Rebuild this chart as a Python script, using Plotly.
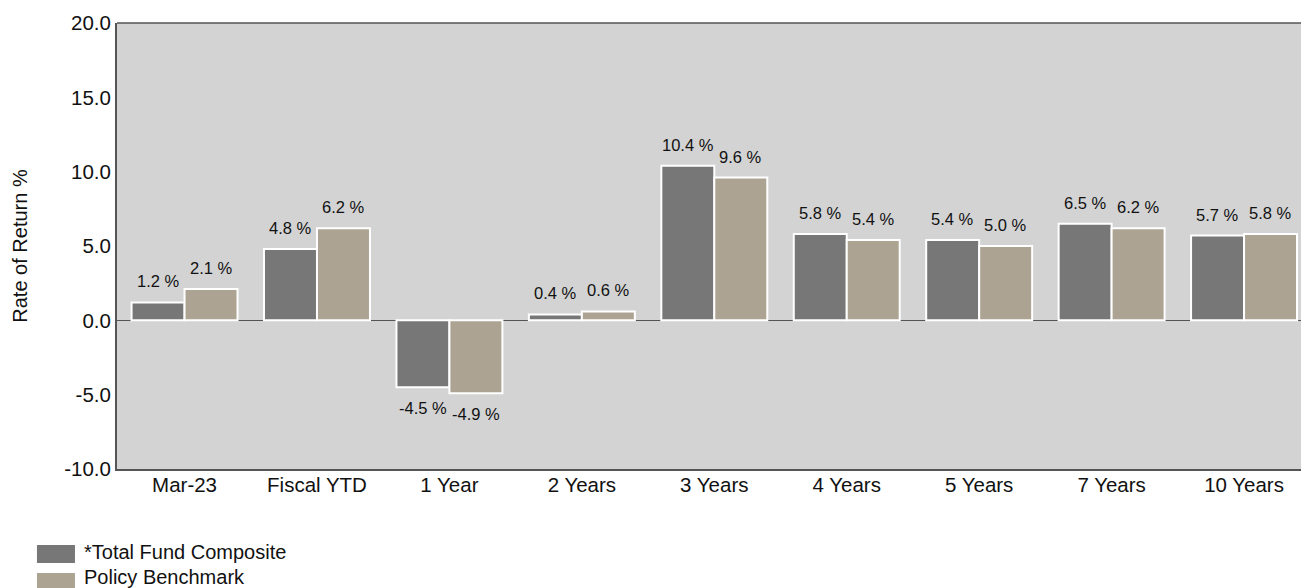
import plotly.graph_objects as go

categories = ["Mar-23", "Fiscal YTD", "1 Year", "2 Years", "3 Years", "4 Years", "5 Years", "7 Years", "10 Years"]
total_fund = [1.2, 4.8, -4.5, 0.4, 10.4, 5.8, 5.4, 6.5, 5.7]
benchmark = [2.1, 6.2, -4.9, 0.6, 9.6, 5.4, 5.0, 6.2, 5.8]
series_names = ["*Total Fund Composite", "Policy Benchmark"]
series_colors = ["#777777", "#ada393"]
y_ticks = [-10, -5, 0, 5, 10, 15, 20]

FONT = "Liberation Sans, Arial"
label_font = dict(family=FONT, size=16.5, color="#111111")

fig = go.Figure()
for name, vals, color in zip(series_names, [total_fund, benchmark], series_colors):
    fig.add_trace(go.Bar(
        x=categories, y=vals, name=name,
        marker=dict(color=color, line=dict(color="white", width=2)),
        showlegend=False,
    ))

# value labels
for k, vals in enumerate([total_fund, benchmark]):
    xs = -26.5 if k == 0 else 26.5
    for c, v in zip(categories, vals):
        fig.add_annotation(x=c, y=v, xref="x", yref="y", text=f"{v:.1f} %",
                           showarrow=False, xshift=xs, yshift=21 if v >= 0 else -21,
                           yanchor="middle", font=label_font)

# legend (drawn manually to match large swatches)
legend_rows = [(-0.1704, -0.2108, -0.1861), (-0.2332, -0.2735, -0.2422)]
for (y0, y1, yt), name, color in zip(legend_rows, series_names, series_colors):
    fig.add_shape(type="rect", xref="paper", yref="paper", x0=-0.0676, x1=-0.0355, y0=y0, y1=y1,
                  fillcolor=color, line=dict(width=0))
    fig.add_annotation(xref="paper", yref="paper", x=-0.0296, y=yt, text=name,
                       showarrow=False, xanchor="left", yanchor="middle",
                       font=dict(family=FONT, size=20, color="#111111"))

fig.update_layout(
    width=1301, height=588,
    margin=dict(l=117, r=0, t=23, b=119, autoexpand=False),
    paper_bgcolor="white", plot_bgcolor="#d3d3d3",
    barmode="group", bargap=0.2, bargroupgap=0,
    showlegend=False,
    xaxis=dict(range=[-0.51, 8.43], showgrid=False, showline=True, linecolor="#555555", linewidth=2,
               tickfont=dict(family=FONT, size=20.5, color="#111111"),
               ticks="", zeroline=False, ticklabelstandoff=-4),
    yaxis=dict(range=[-10, 20], tickvals=y_ticks, ticktext=[f"{v:.1f}" for v in y_ticks],
               showgrid=False, showline=True, linecolor="#555555", linewidth=2,
               zeroline=True, zerolinecolor="#555555", zerolinewidth=1,
               tickfont=dict(family=FONT, size=20.5, color="#111111"),
               title=dict(text="Rate of Return %", font=dict(family=FONT, size=20, color="#111111"), standoff=31),
               ticks=""),
)
fig.add_shape(type="line", xref="paper", yref="paper", x0=0, x1=1, y0=1, y1=1,
              line=dict(color="#555555", width=1.5))

fig.write_html("out.html", config={"displayModeBar": False},
               post_script="document.body.style.margin='0';document.body.style.overflow='hidden';")
